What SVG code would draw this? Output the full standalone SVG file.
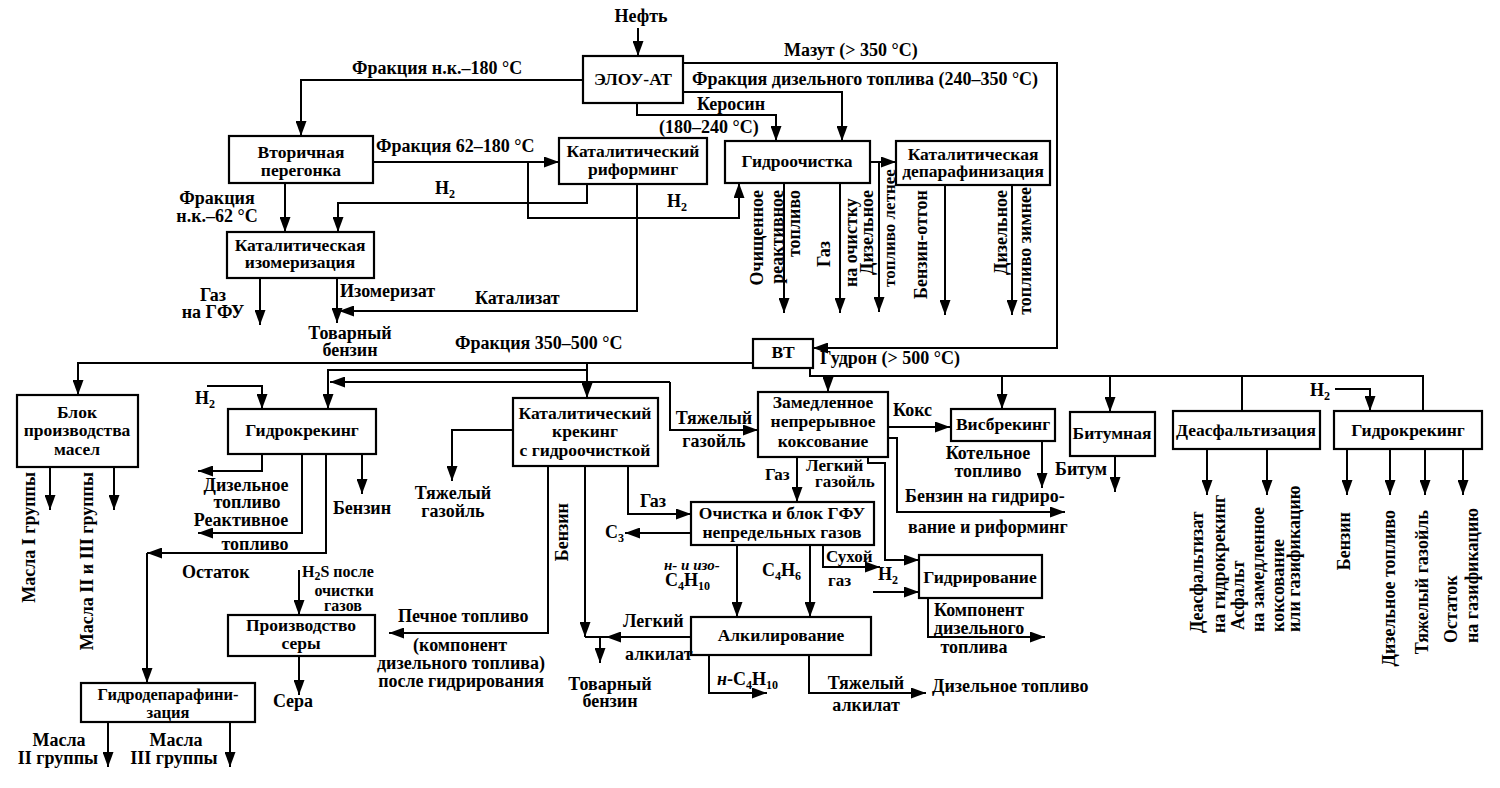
<svg xmlns="http://www.w3.org/2000/svg" width="1500" height="788" viewBox="0 0 1500 788">
<defs>
<marker id="ah" viewBox="0 0 15 11" refX="15" refY="5.5" markerWidth="15" markerHeight="11" markerUnits="userSpaceOnUse" orient="auto"><path d="M0,0 L15,5.5 L0,11 z" fill="#000"/></marker>
<style>
.bx{fill:#fff;stroke:#000;stroke-width:2.2}
.ln{fill:none;stroke:#000;stroke-width:2}
.a{marker-end:url(#ah)}
text{font-family:"Liberation Serif","Times New Roman",serif;font-size:18px;font-weight:bold;fill:#000}
.t{font-size:17.5px;text-anchor:middle}
.c{text-anchor:middle}
.e{text-anchor:end}
.s{font-size:12px}
.i{font-style:italic;font-size:15px}
.m{font-size:16px}
.k{font-size:17px}
</style>
</defs>
<rect width="1500" height="788" fill="#fff"/>

<g id="connectors">
<path class="ln a" d="M638,28 V56"/>
<path class="ln a" d="M583,80 H301 V136"/>
<path class="ln a" d="M683,63 H1057 V348 H813"/>
<path class="ln a" d="M683,92 H842 V141"/>
<path class="ln a" d="M637,103 V115 H776 V141"/>
<path class="ln a" d="M373,162 H559"/>
<path class="ln a" d="M528,162 V218 H739 V183"/>
<path class="ln a" d="M587,184 V203 H338 V232"/>
<path class="ln a" d="M285,183 V232"/>
<path class="ln a" d="M637,184 V311 H339"/>
<path class="ln a" d="M337,278 V323"/>
<path class="ln a" d="M260,278 V325"/>
<path class="ln a" d="M870,162 H896"/>
<path class="ln a" d="M784,183 V313"/>
<path class="ln a" d="M840,183 V313"/>
<path class="ln a" d="M879,162 V312"/>
<path class="ln a" d="M945,185 V315"/>
<path class="ln a" d="M1012,185 V315"/>
<path class="ln a" d="M753,363 H78 V395"/>
<path class="ln a" d="M587,363 V398"/>
<path class="ln a" d="M587,370 H328 V409"/>
<path class="ln a" d="M670,382 H330"/>
<path class="ln a" d="M670,382 V430 H758"/>
<path class="ln a" d="M207,386 H262 V409"/>
<path class="ln a" d="M262,454 V471 H198"/>
<path class="ln a" d="M302,454 V533 H198"/>
<path class="ln a" d="M326,454 V553 H147"/>
<path class="ln a" d="M147,553 V683"/>
<path class="ln a" d="M362,454 V494"/>
<path class="ln a" d="M50,467 V510"/>
<path class="ln a" d="M114,467 V510"/>
<path class="ln a" d="M108,722 V767"/>
<path class="ln a" d="M230,722 V767"/>
<path class="ln a" d="M299,570 V615"/>
<path class="ln a" d="M299,656 V695"/>
<path class="ln a" d="M548,466 V633 H389"/>
<path class="ln a" d="M585,466 V637"/>
<path class="ln a" d="M691,637 H606"/>
<path class="ln" d="M608,637 H585"/>
<path class="ln a" d="M600,637 V663"/>
<path class="ln a" d="M513,430 H452 V481"/>
<path class="ln a" d="M628,466 V514 H691"/>
<path class="ln a" d="M691,533 H625"/>
<path class="ln a" d="M737,545 V617"/>
<path class="ln a" d="M810,545 V617"/>
<path class="ln a" d="M709,655 V693 H767"/>
<path class="ln a" d="M809,655 V693 H926"/>
<path class="ln a" d="M823,545 V567 H880"/>
<path class="ln a" d="M873,592 H919"/>
<path class="ln a" d="M868,457 V463 H885 V560 H919"/>
<path class="ln a" d="M797,457 V502"/>
<path class="ln a" d="M888,438 H897 V512 H1065"/>
<path class="ln a" d="M888,427 H950"/>
<path class="ln a" d="M928,598 V637 H1045"/>
<path class="ln" d="M810,368 V376 H1423 V411"/>
<path class="ln" d="M1242,376 V411"/>
<path class="ln a" d="M828,376 V392"/>
<path class="ln a" d="M1002,376 V409"/>
<path class="ln a" d="M1110,376 V412"/>
<path class="ln a" d="M1042,441 V488"/>
<path class="ln a" d="M1115,456 V492"/>
<path class="ln a" d="M1335,389 H1370 V411"/>
<path class="ln a" d="M1207,449 V495"/>
<path class="ln a" d="M1267,449 V495"/>
<path class="ln a" d="M1347,449 V495"/>
<path class="ln a" d="M1390,449 V495"/>
<path class="ln a" d="M1425,449 V495"/>
<path class="ln a" d="M1463,449 V495"/>
</g>

<g id="n-elou"><rect class="bx" x="583" y="56" width="100" height="47"/><text class="t" x="633" y="85">ЭЛОУ-АТ</text></g>
<g id="n-vtor"><rect class="bx" x="229" y="136" width="144" height="47"/><text class="t" x="301" y="158">Вторичная</text><text class="t" x="301" y="176">перегонка</text></g>
<g id="n-rif"><rect class="bx" x="559" y="138" width="148" height="46"/><text class="t" x="633" y="157">Каталитический</text><text class="t" x="633" y="175">риформинг</text></g>
<g id="n-gidroo"><rect class="bx" x="725" y="141" width="145" height="42"/><text class="t" x="797" y="167">Гидроочистка</text></g>
<g id="n-kdep"><rect class="bx" x="896" y="141" width="154" height="44"/><text class="t" x="973" y="160">Каталитическая</text><text class="t" x="973" y="177">депарафинизация</text></g>
<g id="n-izom"><rect class="bx" x="227" y="232" width="147" height="46"/><text class="t" x="300" y="251">Каталитическая</text><text class="t" x="300" y="268">изомеризация</text></g>
<g id="n-vt"><rect class="bx" x="753" y="339" width="60" height="29"/><text class="t" x="783" y="358">ВТ</text></g>
<g id="n-masla"><rect class="bx" x="17" y="395" width="121" height="72"/><text class="t" x="77" y="418">Блок</text><text class="t" x="77" y="436">производства</text><text class="t" x="77" y="455">масел</text></g>
<g id="n-gk1"><rect class="bx" x="228" y="409" width="148" height="45"/><text class="t" x="302" y="436">Гидрокрекинг</text></g>
<g id="n-kk"><rect class="bx" x="513" y="398" width="145" height="68"/><text class="t" x="585" y="419">Каталитический</text><text class="t" x="585" y="437">крекинг</text><text class="t" x="585" y="456">с гидроочисткой</text></g>
<g id="n-koks"><rect class="bx" x="758" y="392" width="130" height="65"/><text class="t" x="823" y="408">Замедленное</text><text class="t" x="823" y="427">непрерывное</text><text class="t" x="823" y="447">коксование</text></g>
<g id="n-visb"><rect class="bx" x="951" y="409" width="104" height="32"/><text class="t" x="1003" y="430">Висбрекинг</text></g>
<g id="n-bit"><rect class="bx" x="1070" y="412" width="85" height="44"/><text class="t" x="1112" y="439">Битумная</text></g>
<g id="n-deasf"><rect class="bx" x="1173" y="411" width="147" height="38"/><text class="t" x="1246" y="436">Деасфальтизация</text></g>
<g id="n-gk2"><rect class="bx" x="1334" y="411" width="148" height="38"/><text class="t" x="1408" y="436">Гидрокрекинг</text></g>
<g id="n-gfu"><rect class="bx" x="691" y="502" width="183" height="43"/><text class="t" x="782" y="519">Очистка и блок ГФУ</text><text class="t" x="782" y="538">непредельных газов</text></g>
<g id="n-gidr"><rect class="bx" x="919" y="555" width="123" height="43"/><text class="t" x="980" y="583">Гидрирование</text></g>
<g id="n-alk"><rect class="bx" x="691" y="617" width="180" height="38"/><text class="t" x="781" y="641">Алкилирование</text></g>
<g id="n-sera"><rect class="bx" x="228" y="615" width="147" height="41"/><text class="t" x="301" y="631">Производство</text><text class="t" x="301" y="649">серы</text></g>
<g id="n-gdp"><rect class="bx" x="81" y="683" width="174" height="39"/><text class="t" x="168" y="700" style="font-size:16.5px">Гидродепарафини-</text><text class="t" x="168" y="718" style="font-size:16.5px">зация</text></g>

<g id="labels">
<text class="c" x="641" y="22">Нефть</text>
<text x="784" y="56">Мазут (&gt; 350 °С)</text>
<text x="352" y="74">Фракция н.к.–180 °С</text>
<text x="692" y="85">Фракция дизельного топлива (240–350 °С)</text>
<text class="c" x="731" y="110">Керосин</text>
<text x="659" y="133">(180–240 °С)</text>
<text x="376" y="152">Фракция 62–180 °С</text>
<text x="435" y="194">H<tspan class="s" dy="4">2</tspan></text>
<text x="667" y="207">H<tspan class="s" dy="4">2</tspan></text>
<text class="c" x="217" y="204">Фракция</text>
<text class="c" x="217" y="222">н.к.–62 °С</text>
<text class="c" x="213" y="301">Газ</text>
<text class="c" x="213" y="318">на ГФУ</text>
<text x="340" y="297">Изомеризат</text>
<text x="475" y="304">Катализат</text>
<text class="c" x="350" y="339">Товарный</text>
<text class="c" x="350" y="356">бензин</text>

<text class="e" transform="translate(763,190) rotate(-90)">Очищенное</text>
<text class="e" transform="translate(783,190) rotate(-90)">реактивное</text>
<text class="e" transform="translate(800,190) rotate(-90)">топливо</text>
<text transform="translate(830,267) rotate(-90)">Газ</text>
<text transform="translate(857,287) rotate(-90)">на очистку</text>
<text class="e" transform="translate(873,190) rotate(-90)">Дизельное</text>
<text transform="translate(895,287) rotate(-90)" class="k">топливо летнее</text>
<text class="e" transform="translate(927,190) rotate(-90)">Бензин-отгон</text>
<text class="e" transform="translate(1007,190) rotate(-90)">Дизельное</text>
<text class="e" transform="translate(1031,187) rotate(-90)">топливо зимнее</text>

<text x="455" y="349">Фракция 350–500 °С</text>
<text x="820" y="364">Гудрон (&gt; 500 °С)</text>
<text x="195" y="404">H<tspan class="s" dy="4">2</tspan></text>
<text class="c" x="246" y="491">Дизельное</text>
<text class="c" x="247" y="508">топливо</text>
<text class="c" x="241" y="526">Реактивное</text>
<text class="c" x="255" y="550">топливо</text>
<text class="c" x="362" y="514">Бензин</text>
<text x="182" y="578">Остаток</text>
<text class="e" transform="translate(35,472) rotate(-90)">Масла I группы</text>
<text class="e" transform="translate(93,472) rotate(-90)">Масла II и III группы</text>
<text class="m" x="302" y="577">H<tspan class="s" dy="3">2</tspan><tspan dy="-3">S после</tspan></text>
<text class="c m" x="344" y="596">очистки</text>
<text class="c m" x="343" y="611">газов</text>
<text class="c" x="293" y="707">Сера</text>
<text class="c" x="59" y="746">Масла</text>
<text class="c" x="58" y="764">II группы</text>
<text class="c" x="176" y="746">Масла</text>
<text class="c" x="174" y="764">III группы</text>
<text x="398" y="622">Печное топливо</text>
<text class="c" x="460" y="651">(компонент</text>
<text class="c" x="461" y="669">дизельного топлива)</text>
<text class="c" x="461" y="687">после гидрирования</text>
<text class="c" x="453" y="499">Тяжелый</text>
<text class="c" x="453" y="517">газойль</text>
<text class="e" transform="translate(568,503) rotate(-90)">Бензин</text>
<text x="640" y="507">Газ</text>
<text x="605" y="538">C<tspan class="s" dy="4">3</tspan></text>
<text class="c" x="714" y="424">Тяжелый</text>
<text class="c" x="714" y="447">газойль</text>
<text x="893" y="416">Кокс</text>
<text class="c" x="988" y="459">Котельное</text>
<text class="c" x="988" y="477">топливо</text>
<text x="1055" y="475">Битум</text>
<text x="905" y="502">Бензин на гидриро-</text>
<text x="908" y="533">вание и риформинг</text>
<text class="k" x="765" y="480">Газ</text>
<text class="k" x="806" y="471">Легкий</text>
<text class="k" x="815" y="487">газойль</text>
<text class="k" x="826" y="562">Сухой</text>
<text class="k" x="828" y="586">газ</text>
<text x="878" y="580">H<tspan class="s" dy="4">2</tspan></text>
<text class="i" x="664" y="570">н- и изо-</text>
<text x="665" y="586">C<tspan class="s" dy="4">4</tspan><tspan dy="-4">H</tspan><tspan class="s" dy="4">10</tspan></text>
<text x="762" y="576">C<tspan class="s" dy="4">4</tspan><tspan dy="-4">H</tspan><tspan class="s" dy="4">6</tspan></text>
<text x="623" y="627">Легкий</text>
<text x="625" y="660">алкилат</text>
<text class="c" x="610" y="690">Товарный</text>
<text class="c" x="610" y="707">бензин</text>
<text x="717" y="685"><tspan font-style="italic">н</tspan>-C<tspan class="s" dy="4">4</tspan><tspan dy="-4">H</tspan><tspan class="s" dy="4">10</tspan></text>
<text class="c" x="866" y="689">Тяжелый</text>
<text class="c" x="866" y="711">алкилат</text>
<text x="932" y="692">Дизельное топливо</text>
<text class="c" x="979" y="616">Компонент</text>
<text class="c" x="979" y="634">дизельного</text>
<text class="c" x="974" y="653">топлива</text>
<text x="1310" y="396">H<tspan class="s" dy="4">2</tspan></text>

<text transform="translate(1203,633) rotate(-90)">Деасфальтизат</text>
<text transform="translate(1225,633) rotate(-90)">на гидрокрекинг</text>
<text transform="translate(1244,630) rotate(-90)">Асфальт</text>
<text transform="translate(1264,632) rotate(-90)">на замедленное</text>
<text transform="translate(1284,632) rotate(-90)">коксование</text>
<text transform="translate(1300,632) rotate(-90)">или газификацию</text>
<text class="e" transform="translate(1350,512) rotate(-90)">Бензин</text>
<text class="e" transform="translate(1395,510) rotate(-90)">Дизельное топливо</text>
<text class="e" transform="translate(1428,510) rotate(-90)">Тяжелый газойль</text>
<text transform="translate(1457,643) rotate(-90)">Остаток</text>
<text transform="translate(1478,643) rotate(-90)">на газификацию</text>
</g>
</svg>
